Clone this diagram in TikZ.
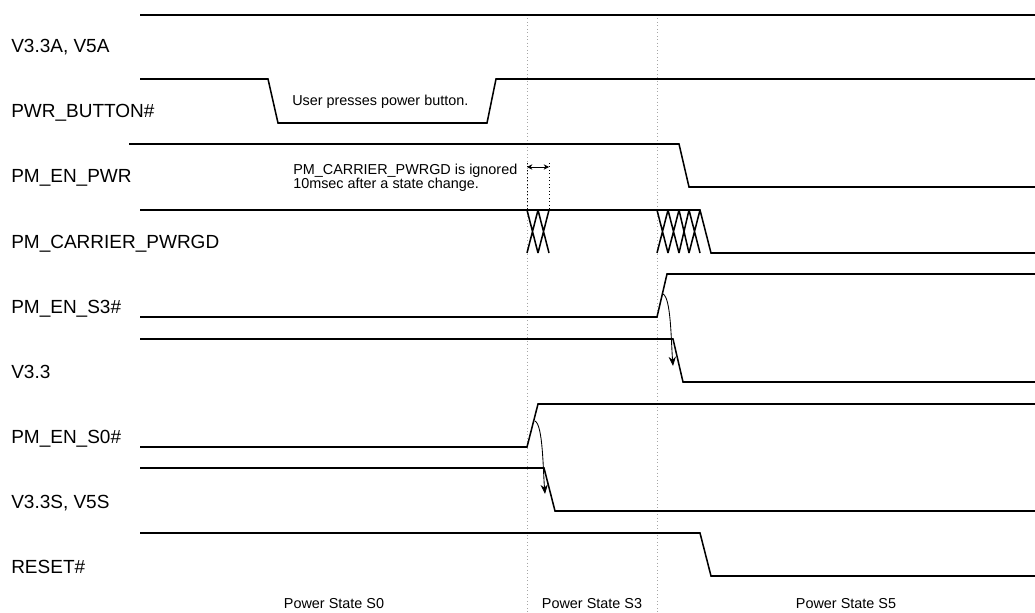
\documentclass[tikz,border=0pt]{standalone}
\usepackage{fontspec}
\setmainfont{Liberation Sans}
\usetikzlibrary{arrows.meta}
\begin{document}
\begin{tikzpicture}[x=0.75pt,y=-0.75pt,
  sig/.style={line width=1.15pt, line join=miter},
  grid/.style={gray!70, dotted, line width=0.6pt},
  blackdot/.style={black, dotted, line width=0.6pt},
  curvarrow/.style={line width=0.65pt, -{Stealth[length=7pt,width=5.5pt]}},
  dimarrow/.style={line width=0.6pt, {Stealth[length=4pt,width=4pt]}-{Stealth[length=4pt,width=4pt]}},
  lbl/.style={anchor=base west, font=\fontsize{14.25}{16}\selectfont, inner sep=0pt},
  note/.style={anchor=base west, font=\fontsize{10.8}{13}\selectfont, inner sep=0pt},
  state/.style={anchor=base, font=\fontsize{10.8}{13}\selectfont, inner sep=0pt}]
\useasboundingbox (0,0) rectangle (1035,613);

% grid lines
\coordinate (g1t) at (527,15); \coordinate (g1b) at (527,613);
\coordinate (g2t) at (657,15); \coordinate (g2b) at (657,613);
\draw[grid] (g1t) -- (g1b);
\draw[grid] (g2t) -- (g2b);

% labels
\node[lbl] (l1) at (11,53) {V3.3A, V5A};
\node[lbl] (l2) at (11,118) {PWR\_BUTTON\#};
\node[lbl] (l3) at (11,183) {PM\_EN\_PWR};
\node[lbl] (l4) at (11,248) {PM\_CARRIER\_PWRGD};
\node[lbl] (l5) at (11,313) {PM\_EN\_S3\#};
\node[lbl] (l6) at (11,378) {V3.3};
\node[lbl] (l7) at (11,443) {PM\_EN\_S0\#};
\node[lbl] (l8) at (11,508) {V3.3S, V5S};
\node[lbl] (l9) at (11,573) {RESET\#};

% waveforms
\draw[sig] (140,15) -- (1035,15);
\draw[sig] (140,79) -- (268,79) -- (278,123) -- (487,123) -- (496,79) -- (1035,79);
\draw[sig] (129,144) -- (679,144) -- (689,187) -- (1035,187);
\draw[sig] (140,210) -- (700,210) -- (711,253) -- (1035,253);
% crossings
\draw[sig] (527,210) -- (538,253) (538,210) -- (527,253)
           (538,210) -- (549,253) (549,210) -- (538,253);
\draw[sig] (657,210) -- (668,253) (668,210) -- (657,253)
           (668,210) -- (679,253) (679,210) -- (668,253)
           (679,210) -- (689,253) (689,210) -- (679,253)
           (689,210) -- (700,253) (700,210) -- (689,253);
\draw[sig] (140,317) -- (657,317) -- (667,274) -- (1035,274);
\draw[sig] (140,339) -- (673,339) -- (683,382) -- (1035,382);
\draw[sig] (140,447) -- (527,447) -- (538,404) -- (1035,404);
\draw[sig] (140,468) -- (544,468) -- (555,511) -- (1035,511);
\draw[sig] (140,533) -- (700,533) -- (711,576) -- (1035,576);

% causal arrows
\coordinate (a1s) at (663,294); \coordinate (a1e) at (673,366);
\draw[curvarrow] (a1s) .. controls (671,298) and (671,340) .. (a1e);
\coordinate (a2s) at (535,421); \coordinate (a2e) at (545,494);
\draw[curvarrow] (a2s) .. controls (543,425) and (543,470) .. (a2e);

% ignore window annotation
\coordinate (d1t) at (527,163); \coordinate (d1b) at (527,210);
\coordinate (d2t) at (549,163); \coordinate (d2b) at (549,210);
\draw[blackdot] (d1t) -- (d1b);
\draw[blackdot] (d2t) -- (d2b);
\coordinate (m1) at (527,167); \coordinate (m2) at (549,167);
\draw[dimarrow] (m1) -- (m2);
\node[note] (n1) at (293,175) {PM\_CARRIER\_PWRGD is ignored};
\node[note] (n2) at (293,189) {10msec after a state change.};
\node[note] (n3) at (292,106) {User presses power button.};

% states
\node[state] (s0) at (334,608) {Power State S0};
\node[state] (s3) at (592,608) {Power State S3};
\node[state] (s5) at (846,608) {Power State S5};
\end{tikzpicture}
\end{document}
